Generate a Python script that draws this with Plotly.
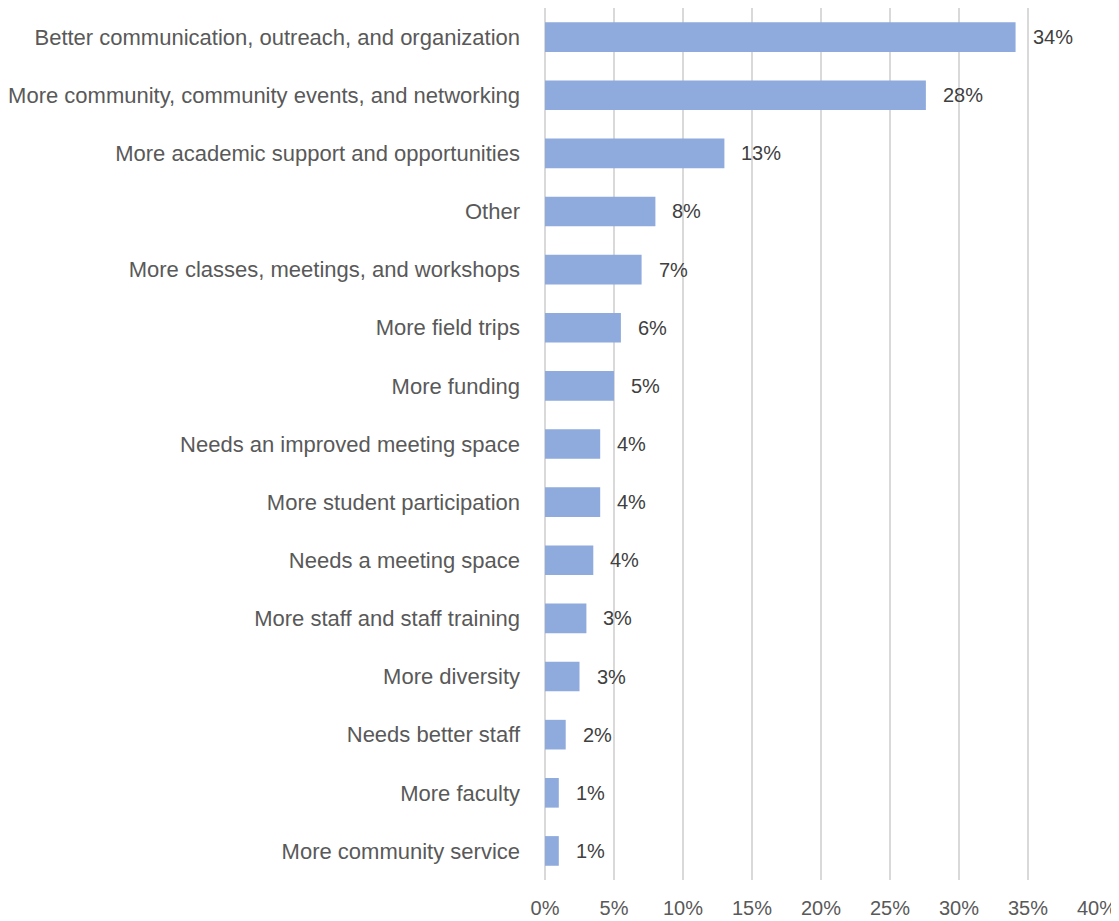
import plotly.graph_objects as go

categories = [
    "Better communication, outreach, and organization",
    "More community, community events, and networking",
    "More academic support and opportunities",
    "Other",
    "More classes, meetings, and workshops",
    "More field trips",
    "More funding",
    "Needs an improved meeting space",
    "More student participation",
    "Needs a meeting space",
    "More staff and staff training",
    "More diversity",
    "Needs better staff",
    "More faculty",
    "More community service",
]
values = [34.1, 27.6, 13.0, 8.0, 7.0, 5.5, 5.0, 4.0, 4.0, 3.5, 3.0, 2.5, 1.5, 1.0, 1.0]
labels = ["34%", "28%", "13%", "8%", "7%", "6%", "5%", "4%", "4%", "4%", "3%", "3%", "2%", "1%", "1%"]
tick_vals = [0, 5, 10, 15, 20, 25, 30, 35, 40]
tick_text = ["0%", "5%", "10%", "15%", "20%", "25%", "30%", "35%", "40%"]

FONT = "Liberation Sans Narrow, Arial Narrow, Liberation Sans, Arial, sans-serif"

fig = go.Figure(go.Bar(
    x=values, y=categories, orientation="h",
    marker=dict(color="#8FAADC", line=dict(width=0)),
    width=0.51,
    hoverinfo="skip",
))

for v, c, t in zip(values, categories, labels):
    fig.add_annotation(x=v, y=c, text=t, showarrow=False, xanchor="left",
                       xshift=15, font=dict(family=FONT, size=20, color="#404040"))

fig.update_layout(
    width=1111, height=913,
    margin=dict(l=537, r=22, t=0, b=41, autoexpand=False),
    plot_bgcolor="white", paper_bgcolor="white",
    showlegend=False,
    font=dict(family=FONT, size=22, color="#595959"),
    xaxis=dict(range=[0, 40], tickvals=tick_vals, ticktext=tick_text,
               automargin=False,
               showgrid=True, gridcolor="#D9D9D9", gridwidth=2,
               zeroline=True, zerolinecolor="#D9D9D9", zerolinewidth=2,
               showline=False, ticks="", ticklabelstandoff=14,
               tickfont=dict(family=FONT, size=20, color="#595959")),
    yaxis=dict(categoryorder="array", categoryarray=categories[::-1],
               automargin=False,
               showgrid=False, zeroline=False, showline=False, ticks="",
               ticklabelstandoff=24,
               tickfont=dict(family=FONT, size=22, color="#595959")),
)

fig.write_html("out.html")
